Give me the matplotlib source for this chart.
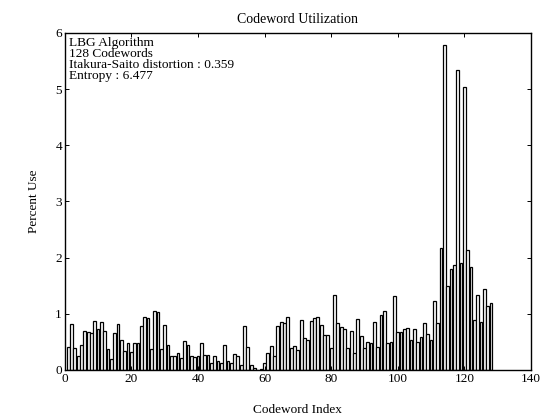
import matplotlib
matplotlib.use("Agg")
import matplotlib.pyplot as plt
import numpy as np

# percent use per codeword
use_a = [0.41, 0.81, 0.39, 0.25, 0.45, 0.70, 0.68, 0.66, 0.87, 0.72,
         0.86, 0.70, 0.38, 0.20, 0.65, 0.81, 0.53, 0.33, 0.48, 0.31,
         0.48, 0.47, 0.78, 0.95, 0.92, 0.37, 1.05, 1.03, 0.38, 0.80,
         0.44, 0.24, 0.24, 0.30, 0.21, 0.51, 0.44, 0.24, 0.23, 0.25,
         0.47, 0.27, 0.27, 0.12, 0.25, 0.15, 0.12, 0.44, 0.15, 0.12,
         0.28, 0.25, 0.09, 0.79, 0.41, 0.09, 0.03, 0.00, 0.02, 0.12]
use_b = [0.30, 0.43, 0.24, 0.78, 0.86, 0.83, 0.94, 0.39, 0.43, 0.36,
         0.88, 0.56, 0.53, 0.87, 0.92, 0.95, 0.80, 0.62, 0.62, 0.39,
         1.33, 0.84, 0.76, 0.73, 0.39, 0.69, 0.30, 0.90, 0.60, 0.39,
         0.50, 0.47, 0.86, 0.41, 0.98, 1.04, 0.47, 0.50]
use_c = [1.31, 0.68, 0.68, 0.72, 0.74, 0.54, 0.72, 0.50, 0.59, 0.83,
         0.64, 0.53, 1.22, 0.84, 2.17, 5.78, 1.49, 1.79, 1.87, 5.34,
         1.90, 5.04, 2.13, 1.84, 0.89, 1.33, 0.86, 1.44, 1.13, 1.19]
use = use_a + use_b + use_c
idx = np.arange(1, len(use) + 1)

info = ["LBG Algorithm", "128 Codewords",
        "Itakura-Saito distortion : 0.359", "Entropy : 6.477"]

plt.rcParams['font.family'] = ['Liberation Serif', 'DejaVu Serif']
plt.rcParams['font.size'] = 9.5

fig = plt.figure(figsize=(5.49, 4.17), dpi=100)
ax = fig.add_axes([0.118, 0.113, 0.849, 0.808])

ax.bar(idx, use, width=0.85, color='white', edgecolor='black', linewidth=0.9)
ax.axis([0, 140, 0, 6])
ax.set_xticks(range(0, 141, 20))
ax.set_yticks(range(0, 7))
ax.tick_params(direction='in', top=True, right=True, length=3, width=0.7,
               labelsize=9.5, pad=2)
for s in ax.spines.values():
    s.set_linewidth(1.0)

ax.text(1.2, 5.93, "\n".join(info), va='top', ha='left', fontsize=9.6,
        linespacing=0.88)

ax.set_title("Codeword Utilization", fontsize=10, pad=7)
ax.set_xlabel("Codeword Index", fontsize=9.5, labelpad=14)
ax.set_ylabel("Percent Use", fontsize=9.5, labelpad=11)

fig.savefig("out.png", dpi=100)
